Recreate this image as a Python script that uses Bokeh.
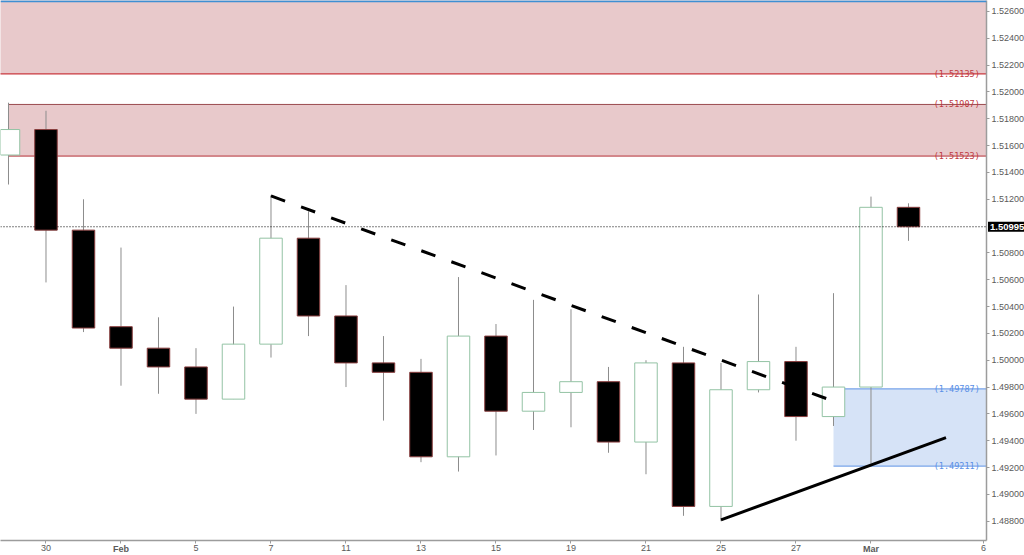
import numpy as np
from bokeh.plotting import figure
from bokeh.models import ColumnDataSource, FixedTicker, PrintfTickFormatter, Range1d, Span, Label
from bokeh.embed import file_html
from bokeh.resources import INLINE
from bokeh.core.properties import value

# ---- data ----
bar_index = list(range(25))
opens  = [1.5153, 1.5172, 1.5097, 1.5025, 1.5009, 1.4995, 1.4971, 1.5012, 1.5091, 1.5033,
          1.4998, 1.4991, 1.4928, 1.5018, 1.4962, 1.4976, 1.4984, 1.4939, 1.4998, 1.4891,
          1.4978, 1.4999, 1.4958, 1.4980, 1.5114]
highs  = [1.5192, 1.5186, 1.5120, 1.5084, 1.5032, 1.5009, 1.5040, 1.5123, 1.5111, 1.5056,
          1.5018, 1.5001, 1.5062, 1.5027, 1.5045, 1.5038, 1.4995, 1.5000, 1.5010, 1.4998,
          1.5049, 1.5010, 1.5050, 1.5122, 1.5117]
lows   = [1.5131, 1.5058, 1.5021, 1.4981, 1.4975, 1.4960, 1.4971, 1.5002, 1.5018, 1.4980,
          1.4955, 1.4924, 1.4917, 1.4929, 1.4948, 1.4950, 1.4931, 1.4915, 1.4884, 1.4880,
          1.4976, 1.4940, 1.4951, 1.4923, 1.5089]
closes = [1.5172, 1.5097, 1.5024, 1.5009, 1.4995, 1.4971, 1.5012, 1.5091, 1.5033, 1.4998,
          1.4991, 1.4928, 1.5018, 1.4962, 1.4976, 1.4984, 1.4939, 1.4998, 1.4891, 1.4978,
          1.4999, 1.4958, 1.4980, 1.5114, 1.50995]

date_tick_index = [1, 3, 5, 7, 9, 11, 13, 15, 17, 19, 21, 23, 26]
date_tick_label = ["30", "Feb", "5", "7", "11", "13", "15", "19", "21", "25", "27", "Mar", "6"]

price_ticks = [1.488, 1.490, 1.492, 1.494, 1.496, 1.498, 1.500, 1.502, 1.504, 1.506,
               1.508, 1.512, 1.514, 1.516, 1.518, 1.520, 1.522, 1.524, 1.526]
last_price = 1.50995

# zones (supply / demand)
red_zone_bottom = [1.52135, 1.51523]
red_zone_top    = [1.53000, 1.51907]
red_zone_start  = [-1, 0]
blue_zone_bottom = [1.49211]
blue_zone_top    = [1.49787]
blue_zone_start  = [22]

level_values = [1.52135, 1.51907, 1.51523, 1.49787, 1.49211]
level_labels = ["(1.52135)", "(1.51907)", "(1.51523)", "(1.49787)", "(1.49211)"]
level_colors = ["#c0393f", "#c0393f", "#c0393f", "#5a8fe6", "#5a8fe6"]

# trend lines
down_tl_x = [7, 22]
down_tl_y = [1.51225, 1.49695]
up_tl_x = [19, 25]
up_tl_y = [1.4881, 1.49423]

# ---- figure ----
X0, X1 = -0.213, 26.08
Y0, Y1 = 1.48656, 1.52682

p = figure(frame_width=986, frame_height=540, x_range=Range1d(X0, X1), y_range=Range1d(Y0, Y1),
           output_backend="svg", toolbar_location=None, y_axis_location="right",
           min_border_left=0, min_border_top=0, min_border_right=0, min_border_bottom=0)
p.grid.visible = False
p.outline_line_color = None
p.background_fill_color = "white"
p.border_fill_color = "white"

# zones
p.quad(left=red_zone_start, right=[30] * len(red_zone_start), bottom=red_zone_bottom, top=red_zone_top,
       fill_color="#e8c9cb", line_color=None)
p.quad(left=blue_zone_start, right=[30], bottom=blue_zone_bottom, top=blue_zone_top,
       fill_color="#d6e3f7", line_color=None)

# zone edge lines
p.segment(x0=[-1], x1=[30], y0=[red_zone_bottom[0]], y1=[red_zone_bottom[0]], line_color="#c8363c", line_width=1.2)
p.segment(x0=[red_zone_start[1]], x1=[30], y0=[red_zone_top[1]], y1=[red_zone_top[1]], line_color="#9a4a4e", line_width=1)
p.segment(x0=[red_zone_start[1]], x1=[30], y0=[red_zone_bottom[1]], y1=[red_zone_bottom[1]], line_color="#d3878b", line_width=2)
p.segment(x0=[blue_zone_start[0]] * 2, x1=[30] * 2, y0=[blue_zone_top[0], blue_zone_bottom[0]],
          y1=[blue_zone_top[0], blue_zone_bottom[0]], line_color="#79a5ea", line_width=1.3)

# last price dotted line
p.add_layout(Span(location=last_price, dimension="width", line_color="black", line_width=1.2, line_dash="1 2"))
# top blue border
p.add_layout(Span(location=Y1 - 0.00006, dimension="width", line_color="#3f8fd2", line_width=2))

# candles
o = np.array(opens); c = np.array(closes)
up = c >= o
src = ColumnDataSource(dict(x=bar_index, high=highs, low=lows,
                            top=np.maximum(o, c), bottom=np.minimum(o, c),
                            fill=np.where(up, "white", "black"),
                            line=np.where(up, "#93c3a4", "#8a3e3e")))
p.segment(x0="x", x1="x", y0="high", y1="low", source=src, line_color="#8c8c8c", line_width=1)
p.vbar(x="x", width=0.6, top="top", bottom="bottom", source=src,
       fill_color="fill", line_color="line", line_width=1)

# trend lines
p.line(down_tl_x, down_tl_y, line_color="black", line_width=3, line_dash="15 17")
p.line(up_tl_x, up_tl_y, line_color="black", line_width=3)

# level labels
lsrc = ColumnDataSource(dict(x=[25.9] * len(level_values), y=level_values, t=level_labels, col=level_colors))
p.text(x="x", y="y", text="t", source=lsrc, text_color="col", text_align="right", text_baseline="middle",
       text_font=value("DejaVu Sans Mono"), text_font_size="8.5px")

# axes
p.xaxis.ticker = FixedTicker(ticks=date_tick_index)
p.xaxis.major_label_overrides = {i: ("" if lab in ("Feb", "Mar") else lab) for i, lab in zip(date_tick_index, date_tick_label)}
p.yaxis.ticker = FixedTicker(ticks=price_ticks)
p.yaxis.formatter = PrintfTickFormatter(format="%.5f")
for ax in (p.xaxis[0], p.yaxis[0]):
    ax.axis_line_color = "#9c9c9c"
    ax.axis_line_width = 1.5
    ax.major_tick_line_color = "#9c9c9c"
    ax.major_tick_out = 3
    ax.major_tick_in = 0
    ax.minor_tick_line_color = None
    ax.major_label_text_color = "#5a5a5a"
    ax.major_label_text_font = "Liberation Sans"
    ax.major_label_text_font_size = "9px"
    ax.major_label_standoff = 2
p.xaxis.major_label_standoff = 1

# bold month labels (side panel so they are not clipped by the frame)
for i, lab in zip(date_tick_index, date_tick_label):
    if lab in ("Feb", "Mar"):
        p.add_layout(Label(x=i, y=Y0 - 0.00060, text=lab, text_align="center", text_baseline="middle",
                           text_font="Liberation Sans", text_font_size="9px", text_font_style="bold",
                           text_color="#5a5a5a"), "below")

# last price badge
p.add_layout(Label(x=X1 + 0.04, y=last_price, text="%.5f" % last_price, text_align="left", text_baseline="middle",
                   text_font="Liberation Sans", text_font_size="9.5px", text_font_style="bold",
                   text_color="white", background_fill_color="black", padding=2), "right")

open("out.html", "w").write(file_html(p, INLINE))
